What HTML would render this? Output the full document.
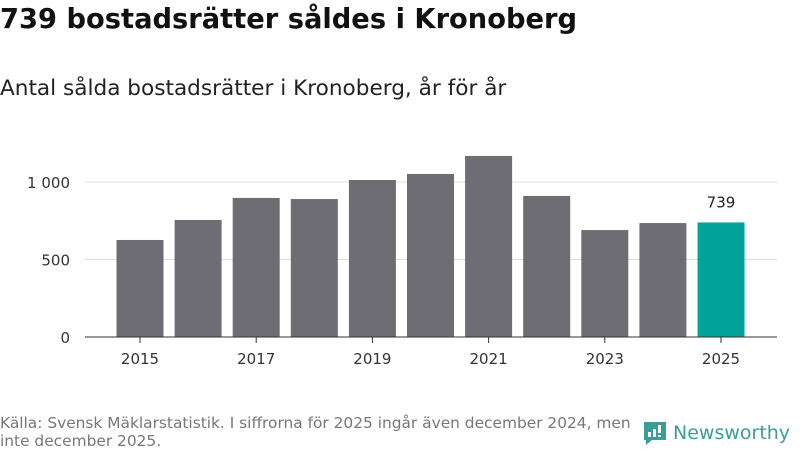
<!DOCTYPE html>
<html><head><meta charset="utf-8">
<style>
body{margin:0;width:800px;height:450px;background:#fff;font-family:"DejaVu Sans","Liberation Sans",sans-serif;overflow:hidden;position:relative}
h1{position:absolute;left:0;top:4px;margin:0;font-size:27.3px;font-weight:bold;color:#111}
.sub{position:absolute;left:0;top:76px;font-size:21.6px;color:#222}
.src{position:absolute;left:0;top:414px;font-size:15.4px;color:#777;line-height:18px;width:640px;white-space:nowrap}
.logo{position:absolute;left:642px;top:420px;display:flex;align-items:center;color:#3a9e97;font-size:19px;font-weight:normal}
</style></head><body>
<h1>739 bostadsrätter såldes i Kronoberg</h1>
<div class="sub">Antal sålda bostadsrätter i Kronoberg, år för år</div>
<svg id="chart" width="800" height="450" style="position:absolute;left:0;top:0"></svg>
<div class="src">Källa: Svensk Mäklarstatistik. I siffrorna för 2025 ingår även december 2024, men<br>inte december 2025.</div>
<div class="logo">
<svg width="26" height="26" viewBox="0 0 26 26"><path d="M2 2h22v18H10l-6 5v-5H2z" fill="#3a9e97"/><rect x="6" y="12" width="3" height="5" fill="#fff"/><rect x="11" y="9" width="3" height="8" fill="#fff"/><rect x="16" y="5" width="3" height="8" fill="#fff"/><rect x="16" y="15" width="3" height="2" fill="#fff"/></svg>
<span style="margin-left:5px">Newsworthy</span></div>
<script>
const years=[2015,2016,2017,2018,2019,2020,2021,2022,2023,2024,2025];
const values=[626,755,897,890,1013,1052,1168,910,690,735,739];
const yTicks=[0,500,1000];
const yTickLabels=["0","500","1 000"];
const xTickYears=[2015,2017,2019,2021,2023,2025];
const NS="http://www.w3.org/2000/svg";
const svg=document.getElementById('chart');
const y=v=>337-v*0.155;
const x=i=>140+i*58.1;
function mk(t,a){const e=document.createElementNS(NS,t);for(const k in a)e.setAttribute(k,a[k]);svg.appendChild(e);return e;}
yTicks.forEach((t,i)=>{
 if(t>0){const g=mk('line',{x1:85,x2:777,y1:y(t),y2:y(t),stroke:'#ddd','stroke-width':1});
 
 }
 const l=mk('text',{x:70,y:y(t)+6,'text-anchor':'end','font-size':15,fill:'#333'});
 l.textContent=yTickLabels[i];
 
 
});
values.forEach((v,i)=>{
 const last=i===values.length-1;
 const r=mk('rect',{x:x(i)-23.5,y:y(v),width:47,height:337-y(v),fill:last?'#00a39a':'#6e6d73'});
 
 
 if(last){const t=mk('text',{x:x(i),y:y(v)-15,'text-anchor':'middle','font-size':15,fill:'#222'});t.textContent=v;
 
 }
});
const ax=mk('line',{x1:85,x2:777,y1:337,y2:337,stroke:'#333','stroke-width':1});


xTickYears.forEach(yr=>{
 const i=years.indexOf(yr);
 const tk=mk('line',{x1:x(i),x2:x(i),y1:337,y2:343,stroke:'#333'});
 
 
 const t=mk('text',{x:x(i),y:364,'text-anchor':'middle','font-size':15,fill:'#333'});t.textContent=yr;
 
 
});
</script>
</body></html>
